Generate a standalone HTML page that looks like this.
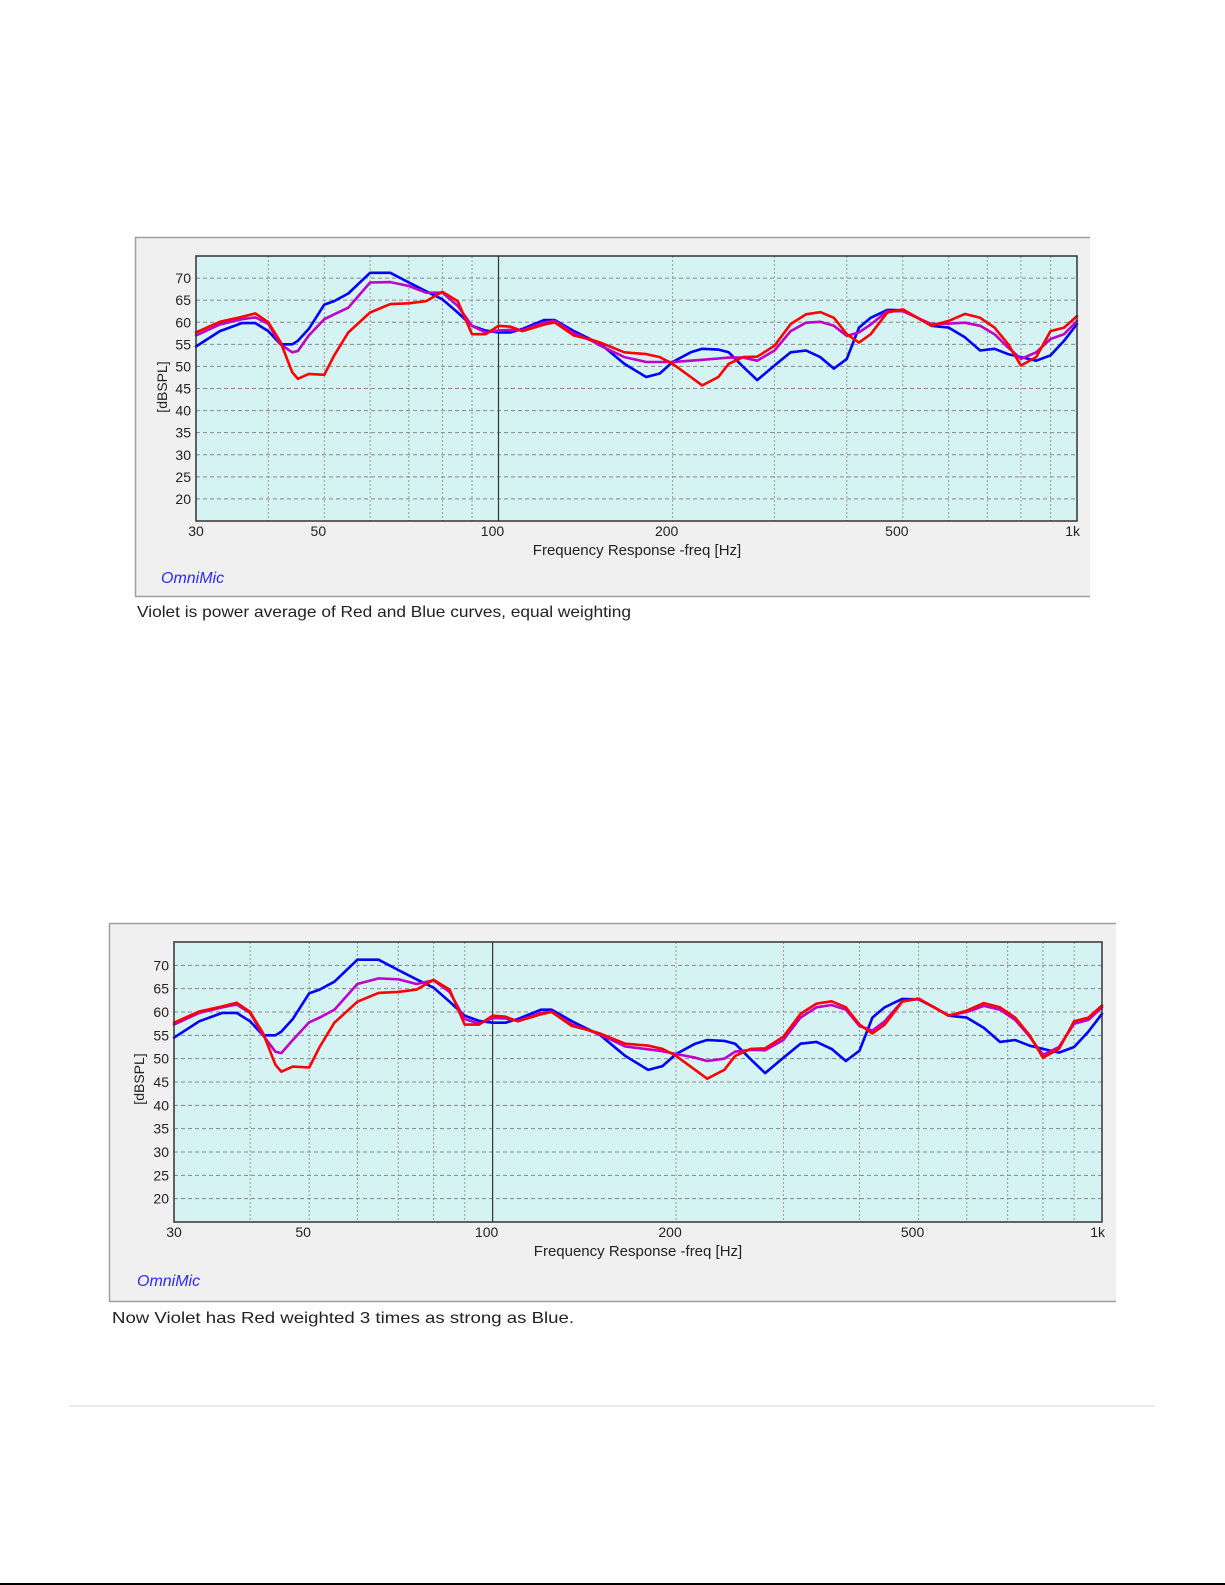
<!DOCTYPE html>
<html><head><meta charset="utf-8"><style>
html,body{margin:0;padding:0;background:#fff;}
body{width:1225px;height:1585px;overflow:hidden;position:relative;font-family:"Liberation Sans",sans-serif;}
svg{position:absolute;left:0;top:0;}
</style></head><body>
<svg id="page" width="1225" height="1585" viewBox="0 0 1225 1585" xmlns="http://www.w3.org/2000/svg">
  <g id="chart1"></g>
  <text x="137" y="617" font-size="16" fill="#222" textLength="494" lengthAdjust="spacingAndGlyphs">Violet is power average of Red and Blue curves, equal weighting</text>
  <g id="chart2"></g>
  <text x="112" y="1323" font-size="16" fill="#222" textLength="462" lengthAdjust="spacingAndGlyphs">Now Violet has Red weighted 3 times as strong as Blue.</text>
  <line x1="69" y1="1406" x2="1155" y2="1406" stroke="#d8d8d8" stroke-width="1"/>
  <line x1="0" y1="1584" x2="1225" y2="1584" stroke="#000" stroke-width="2"/>
</svg>
<script>
const freqs = [30,33,36,38,40,42,44,45,47,50,52,55,60,65,70,75,80,85,90,95,100,105,110,120,125,135,145,150,165,180,190,200,215,225,240,250,265,280,300,320,340,360,380,400,420,440,470,500,530,560,600,640,680,720,760,800,850,900,950,1000];
const blueDb = [54.5,58,59.8,59.8,58,55,55,55.8,58.5,64,64.8,66.5,71.2,71.2,69,67,65.2,62.2,59.2,58.1,57.7,57.7,58.5,60.5,60.5,58,56,55.1,50.6,47.6,48.4,51,53.2,54,53.8,53.2,49.9,46.9,50.2,53.2,53.6,52.1,49.5,51.7,58.8,61,62.8,62.7,61,59.2,58.8,56.6,53.6,54,52.8,52.1,51.3,52.5,55.8,59.6];
const redDb = [57.7,60.1,61.2,62,60,55.5,48.7,47.2,48.3,48.1,52.5,57.7,62.2,64.1,64.3,64.8,66.9,64.8,57.3,57.3,59.2,59,58,59.5,60,57,56,55.4,53.2,52.8,52.1,50.6,47.6,45.7,47.6,50.6,52.1,52.2,54.7,59.6,61.8,62.3,61,57.3,55.4,57.3,62.2,62.9,61,59.2,60.3,61.9,61,58.8,55.1,50.2,52.1,58,58.8,61.4];
const violetEqualDb = [57,59.5,60.7,61.1,59.6,55,53.2,53.5,57,60.7,61.8,63.3,69,69.1,68.2,66.7,66.7,63.7,59.2,57.7,58.1,58.3,58.2,60,60.3,57.5,55.8,54.7,52.1,51,51,51,51.3,51.5,51.8,52,52,51.3,53.6,58,59.9,60.1,59.2,56.9,57.7,59.5,62.5,62.5,61,59.6,59.7,59.9,59.2,57.3,54.3,51.7,53.2,56.2,57.3,60.3];
const violetRed3Db = [57.3,59.8,61,61.6,59.8,55,51.5,51.2,54,57.8,58.8,60.5,66,67.2,67,66,66.8,64.3,58.5,57.5,58.7,58.6,58.1,59.8,60.1,57.3,55.9,55.2,52.6,52,51.6,51,50.2,49.5,50,51.5,51.9,51.8,54,58.8,61,61.5,60.5,57,56,58,62.3,62.8,61,59.3,60,61.3,60.5,58.3,54.8,50.8,52.5,57.5,58.3,61];
const yTicks = [20,25,30,35,40,45,50,55,60,65,70];
const xTickVals = [30,50,100,200,500,1000];
const xTickLabels = ["30","50","100","200","500","1k"];
const xGridVals = [40,50,60,70,80,90,200,300,400,500,600,700,800,900];

const NS = "http://www.w3.org/2000/svg";
function mk(parent, tag, attrs){ const e=document.createElementNS(NS,tag); for(const k in attrs) e.setAttribute(k,attrs[k]); parent.appendChild(e); return e; }

function drawChart(g, L, violet, suffix){
  const xs = f => L.px0 + (L.px1-L.px0)*Math.log10(f/30)/Math.log10(1000/30);
  const ys = v => L.py0 + (L.py1-L.py0)*(75-v)/60;
  let e;
  e = mk(g,'path',{d:`M${L.bx0} ${L.by1} L${L.bx0} ${L.by0} L${L.bx1} ${L.by0} L${L.bx1} ${L.by1} Z`,fill:'#f0f0f0'});
   
  e = mk(g,'path',{d:`M${L.bx0+0.5} ${L.by1} L${L.bx0+0.5} ${L.by0+0.5} L${L.bx1} ${L.by0+0.5} M${L.bx0} ${L.by1-0.5} L${L.bx1} ${L.by1-0.5}`,stroke:'#a0a0a0',fill:'none','stroke-width':1.5});
   
  e = mk(g,'rect',{x:L.px0,y:L.py0,width:L.px1-L.px0,height:L.py1-L.py0,fill:'#d6f3f3'});
   
  for(const f of xGridVals){
    e = mk(g,'line',{x1:xs(f),x2:xs(f),y1:L.py0,y2:L.py1,stroke:'#999','stroke-width':1,'stroke-dasharray':'2,2'});
     
  }
  for(const t of yTicks){
    e = mk(g,'line',{x1:L.px0,x2:L.px1,y1:ys(t),y2:ys(t),stroke:'#888','stroke-width':1,'stroke-dasharray':'4,3'});
     
    e = mk(g,'text',{x:L.px0-5,y:ys(t)+5,'font-size':14,'text-anchor':'end',fill:'#222'});
    e.textContent=t;
     
  }
  e = mk(g,'line',{x1:xs(100),x2:xs(100),y1:L.py0,y2:L.py1,stroke:'#333','stroke-width':1.2});
   
  xTickVals.forEach((f,i)=>{
    let anchor='middle', dx=-6;
    if(i===0){anchor='middle';dx=0;}
    if(i===xTickVals.length-1){anchor='end';dx=3;}
    e = mk(g,'text',{x:xs(f)+dx,y:L.py1+15,'font-size':14,'text-anchor':anchor,fill:'#222'});
    e.textContent=xTickLabels[i];
     
  });
  const series = [[blueDb,'#0000ff','blue-curve'],[violet,'#c000c8','violet-curve'],[redDb,'#ff0000','red-curve']];
  for(const [arr,col,name] of series){
    const d = arr.map((v,i)=>(i?'L':'M')+xs(freqs[i]).toFixed(1)+' '+ys(v).toFixed(1)).join(' ');
    e = mk(g,'path',{d:d,fill:'none',stroke:col,'stroke-width':2.6,'stroke-linejoin':'round','stroke-linecap':'round'});
     
  }
  e = mk(g,'rect',{x:L.px0,y:L.py0,width:L.px1-L.px0,height:L.py1-L.py0,fill:'none',stroke:'#333','stroke-width':1.5});
   
  e = mk(g,'text',{x:L.titleX,y:L.titleY,'font-size':15,'text-anchor':'middle',fill:'#222'});
  e.textContent='Frequency Response -freq [Hz]';
   
  e = mk(g,'text',{x:0,y:0,'font-size':14,'text-anchor':'middle',fill:'#222',transform:`translate(${L.ylabX},${L.ylabY}) rotate(-90)`});
  e.textContent='[dBSPL]';
   
  e = mk(g,'text',{x:L.omX,y:L.omY,'font-size':16,'font-style':'italic',fill:'#2a2aff'});
  e.textContent='OmniMic';
   
}

drawChart(document.getElementById('chart1'),
  {bx0:135,by0:237,bx1:1090,by1:597,px0:196,px1:1077,py0:256,py1:521,titleX:637,titleY:555,ylabX:167,ylabY:387,omX:161,omY:583},
  violetEqualDb,'1');
drawChart(document.getElementById('chart2'),
  {bx0:109,by0:923,bx1:1116,by1:1302,px0:174,px1:1102,py0:942,py1:1222,titleX:638,titleY:1256,ylabX:144,ylabY:1079,omX:137,omY:1286},
  violetRed3Db,'2');
</script>
</body></html>
